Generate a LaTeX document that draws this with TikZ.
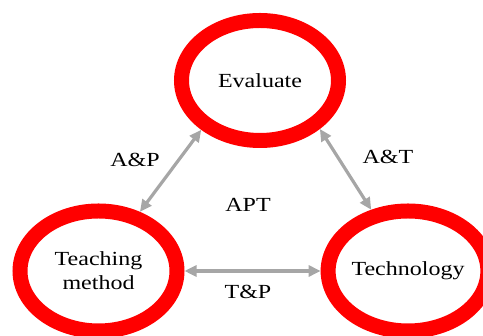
\documentclass[tikz,border=0pt]{standalone}
\usepackage{fontspec}
\setmainfont{Liberation Serif}
\newfontfamily\lblfont[FakeStretch=1.2]{Liberation Serif}
\usetikzlibrary{shapes.geometric,arrows.meta}
\definecolor{ringred}{RGB}{255,0,0}
\definecolor{arrowgray}{RGB}{166,166,166}
\tikzset{
  ring/.style={ellipse, draw=ringred, fill=white, line width=15pt,
    minimum width=157pt, minimum height=120pt, inner sep=0pt, align=center,
    font=\lblfont\fontsize{20}{24}\selectfont},
  lbl/.style={inner sep=0pt, font=\lblfont\fontsize{20}{24}\selectfont},
  link/.style={draw=arrowgray, line width=3.2pt,
    {Triangle[length=12pt,width=11pt]}-{Triangle[length=12pt,width=11pt]}}
}
\begin{document}
\begin{tikzpicture}[x=1pt,y=1pt]
\useasboundingbox (0,0) rectangle (483,336);
\clip (0,0) rectangle (483,336);
\node[ring] (eval) at (260,255.5) {Evaluate};
\node[ring] (teach) at (98.5,65) {Teaching\\method};
\node[ring] (tech) at (408,65) {Technology};
\draw[link] (eval.220) -- (teach.55);
\draw[link] (eval.321) -- (tech.121);
\draw[link] (teach.east) -- (tech.west);
\node[lbl] (ap) at (135,176) {A\&P};
\node[lbl] (at) at (388,179) {A\&T};
\node[lbl] (apt) at (248,131) {APT};
\node[lbl] (tp) at (248,44) {T\&P};
\end{tikzpicture}
\end{document}
